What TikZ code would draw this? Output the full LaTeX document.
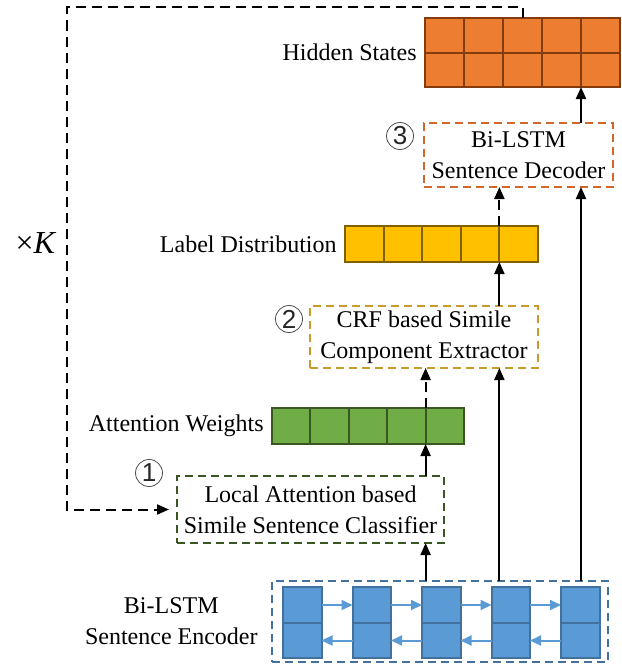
\documentclass[tikz,border=0pt]{standalone}
\usepackage{fontspec}
\setmainfont{Liberation Serif}
\newfontfamily\circfont{Liberation Sans}
\usetikzlibrary{arrows.meta,positioning}
\definecolor{hsfill}{HTML}{ED7D31}
\definecolor{hsline}{HTML}{843C0C}
\definecolor{decline}{HTML}{D0682C}
\definecolor{ldfill}{HTML}{FFC000}
\definecolor{ldline}{HTML}{806000}
\definecolor{crfline}{HTML}{C99A2E}
\definecolor{awfill}{HTML}{70AD47}
\definecolor{awline}{HTML}{385723}
\definecolor{encfill}{HTML}{5B9BD5}
\definecolor{encline}{HTML}{41719C}

\begin{document}
\begin{tikzpicture}[x=0.5pt,y=-0.5pt,
  font=\fontsize{12}{15.5}\selectfont,
  lbl/.style={inner sep=1pt},
  num/.style={circle,draw=black!70,line width=0.4pt,inner sep=0pt,minimum size=13.5pt,
    font=\circfont\fontsize{13}{13}\selectfont,text=black!85},
  cell/.style={draw,line width=1pt,inner sep=0pt,outer sep=0pt},
  hcell/.style={cell,fill=hsfill,draw=hsline,minimum width=19.5pt,minimum height=17.25pt},
  lcell/.style={cell,fill=ldfill,draw=ldline,minimum width=19.3pt,minimum height=18pt},
  acell/.style={cell,fill=awfill,draw=awline,minimum width=19.2pt,minimum height=18pt},
  ecell/.style={cell,fill=encfill,draw=encline,minimum width=19.25pt,minimum height=17.75pt},
  module/.style={draw,dashed,dash pattern=on 4pt off 2.5pt,line width=1pt,align=center,inner sep=0pt,outer sep=0pt},
  arr/.style={line width=1pt,-{Triangle[length=6pt,width=5pt]}},
  darr/.style={arr,dash pattern=on 5pt off 3pt},
  barr/.style={line width=1pt,draw=encfill,-{Triangle[length=5.5pt,width=5pt]}},
  loopline/.style={line width=1pt,dash pattern=on 5pt off 3pt,-{Triangle[length=6pt,width=5pt]}}]
\useasboundingbox (0,0) rectangle (621,669);

% hidden states
\foreach \r/\y in {1/35.25,2/69.75}
  \foreach \c in {1,...,5}
    \node[hcell] (h\r\c) at ({444.5+39*(\c-1)},\y) {};
\node[lbl,left=3pt of h11.south west] (hslbl) {Hidden States};

% decoder
\node[module,draw=decline,minimum width=94.5pt,minimum height=32pt] (dec) at (518.5,155) {Bi-LSTM\\Sentence Decoder};
\node[num] (n3) at (400,136) {3};

% label distribution
\foreach \c in {1,...,5}
  \node[lcell] (l\c) at ({364.3+38.6*(\c-1)},244) {};
\node[lbl,left=3pt of l1.west] (ldlbl) {Label Distribution};

% extractor
\node[module,draw=crfline,minimum width=114pt,minimum height=31pt] (crf) at (424,337) {CRF based Simile\\Component Extractor};
\node[num] (n2) at (289,319) {2};

% attention weights
\foreach \c in {1,...,5}
  \node[acell] (a\c) at ({291.2+38.4*(\c-1)},426) {};
\node[lbl,left=3pt of a1.west] (awlbl) {Attention Weights};

% classifier
\node[module,draw=awline,minimum width=133.5pt,minimum height=33.5pt] (cls) at (310.5,509.5) {Local Attention based\\Simile Sentence Classifier};
\node[num] (n1) at (149,473) {1};

% encoder
\node[module,draw=encline,minimum width=168pt,minimum height=40.5pt] (enc) at (440,621.5) {};
\foreach \c in {1,...,5} {
  \node[ecell] (fw\c) at ({302.25+69.5*(\c-1)},605) {};
  \node[ecell] (bw\c) at ({302.25+69.5*(\c-1)},640.5) {};
}
\foreach \i [count=\j from 2] in {1,...,4} {
  \draw[barr] (fw\i.east) -- (fw\j.west);
  \draw[barr] (bw\j.west) -- (bw\i.east);
}
\node[lbl,align=center,left=6pt of enc] (enclbl) {Bi-LSTM\\Sentence Encoder};

% connections
\draw[arr] (enc.north -| a4.east) -- (cls.south -| a4.east);
\draw[arr] (cls.north -| a4.east) -- (a4.south east);
\draw[darr] (a4.north east) -- (crf.south -| a4.east);
\draw[arr] (enc.north -| l4.east) -- (crf.south -| l4.east);
\draw[arr] (crf.north -| l4.east) -- (l4.south east);
\draw[darr] (l4.north east) -- (dec.south -| l4.east);
\draw[arr] (enc.north -| h24.east) -- (dec.south -| h24.east);
\draw[arr] (dec.north -| h24.east) -- (h24.south east);

% repeat K times
\coordinate (kturn) at (67,7);
\draw[loopline,shorten >=4pt] (h13.north) |- (kturn) |- (cls.west);
\node[font=\fontsize{16}{16}\selectfont] (ktimes) at (36,243) {×\textit{K}};
\end{tikzpicture}
\end{document}
